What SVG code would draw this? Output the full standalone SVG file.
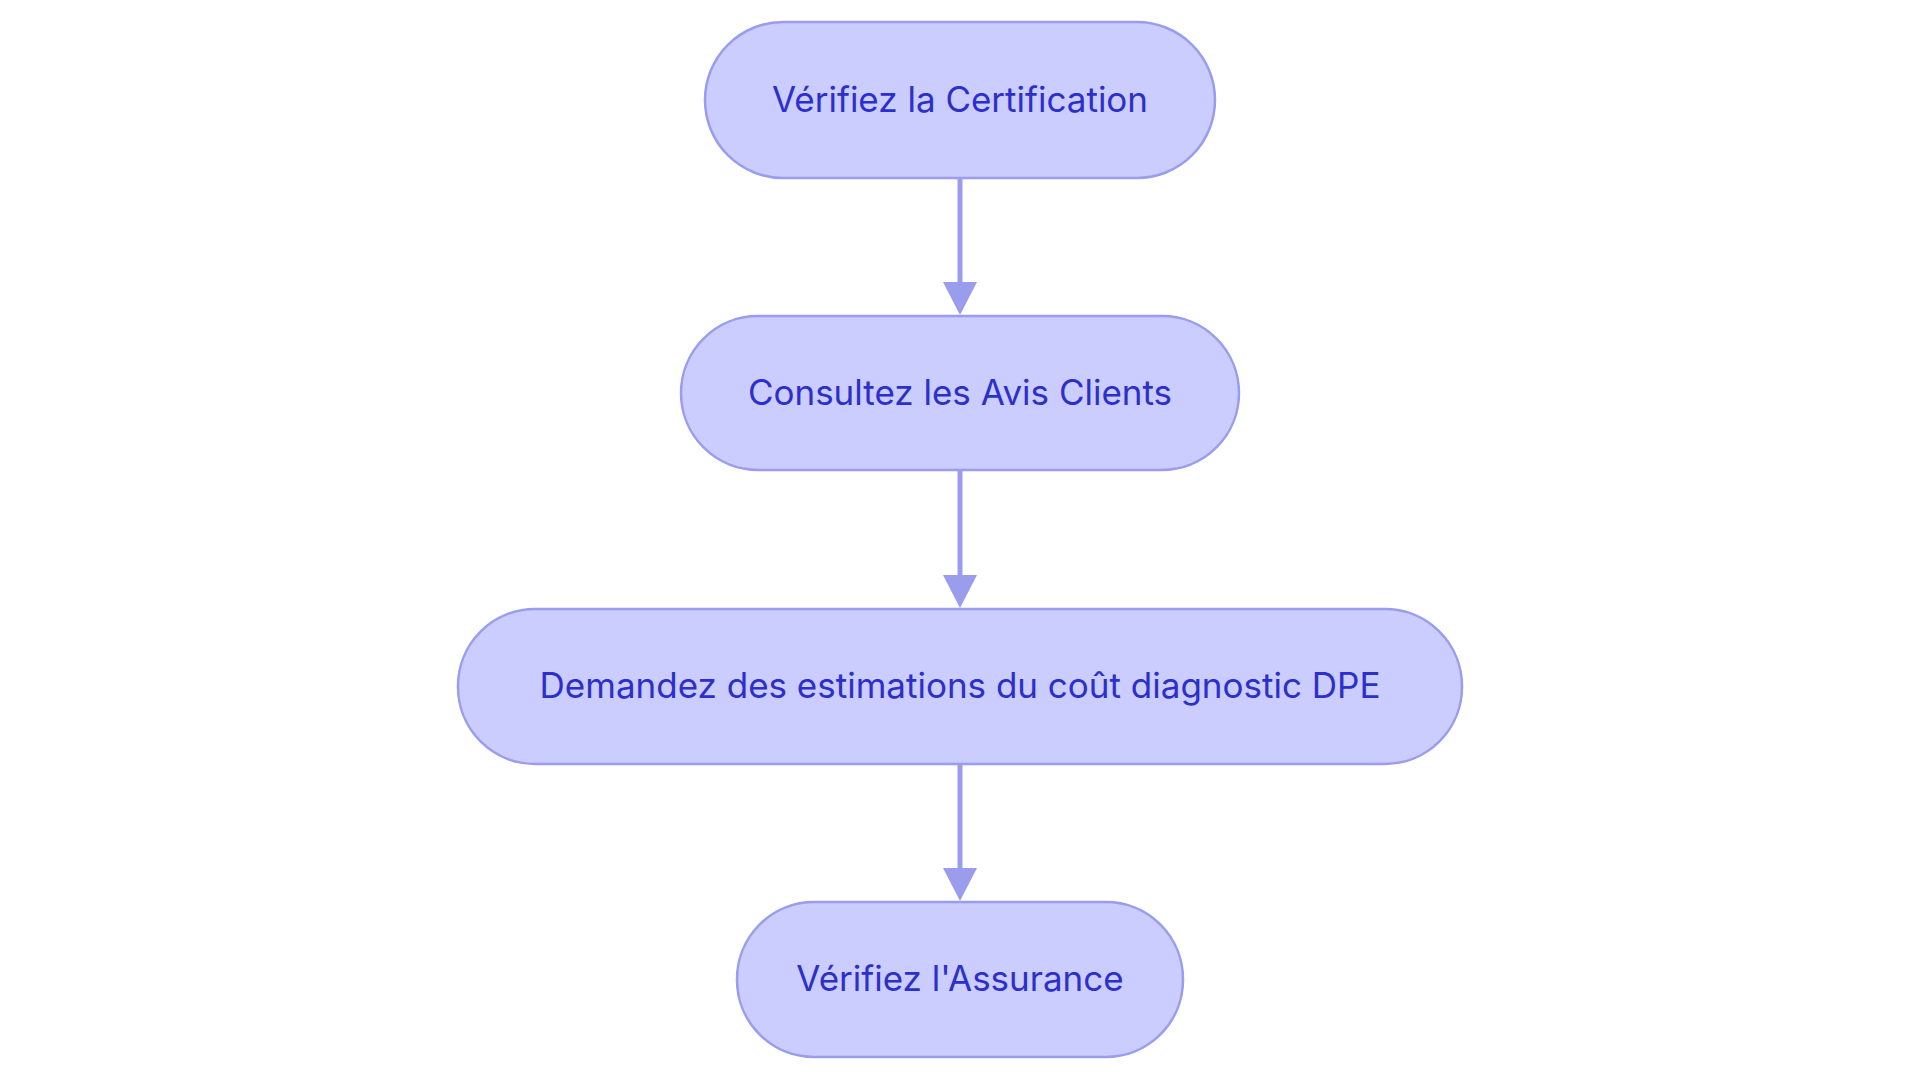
<svg xmlns="http://www.w3.org/2000/svg" width="1920" height="1083" viewBox="0 0 1920 1083">
<style>
.n{fill:#CBCCFF;stroke:#9A9CEE;stroke-width:2.5}
.t{font-family:Inter,"Noto Sans",sans-serif;font-size:35px;fill:#2B2FCB;text-anchor:middle;dominant-baseline:central}
.c{stroke:#9A9CEE;stroke-width:5;fill:none}
</style>
<defs><marker id="a" markerWidth="8" markerHeight="8" refX="7" refY="4" orient="auto" markerUnits="userSpaceOnUse" viewBox="0 0 8 8"><path d="M0,0L8,4L0,8z" fill="#9A9CEE"/></marker></defs>
<rect width="1920" height="1083" fill="#fff"/>
<g id="connectors">
<path class="c" d="M960,178V284"/><path d="M943,282L960,315L977,282z" fill="#9A9CEE"/>
<path class="c" d="M960,470V577"/><path d="M943,575L960,608L977,575z" fill="#9A9CEE"/>
<path class="c" d="M960,764V870"/><path d="M943,868L960,901L977,868z" fill="#9A9CEE"/>
</g>
<g id="n1"><rect class="n" x="705" y="22" width="510" height="156" rx="78"/><text class="t" x="960" y="99">Vérifiez la Certification</text></g>
<g id="n2"><rect class="n" x="681" y="316" width="558" height="154" rx="77"/><text class="t" x="960" y="392">Consultez les Avis Clients</text></g>
<g id="n3"><rect class="n" x="458" y="609" width="1004" height="155" rx="77"/><text class="t" x="960" y="685">Demandez des estimations du coût diagnostic DPE</text></g>
<g id="n4"><rect class="n" x="737" y="902" width="446" height="155" rx="77"/><text class="t" x="960" y="978">Vérifiez l'Assurance</text></g>
</svg>
